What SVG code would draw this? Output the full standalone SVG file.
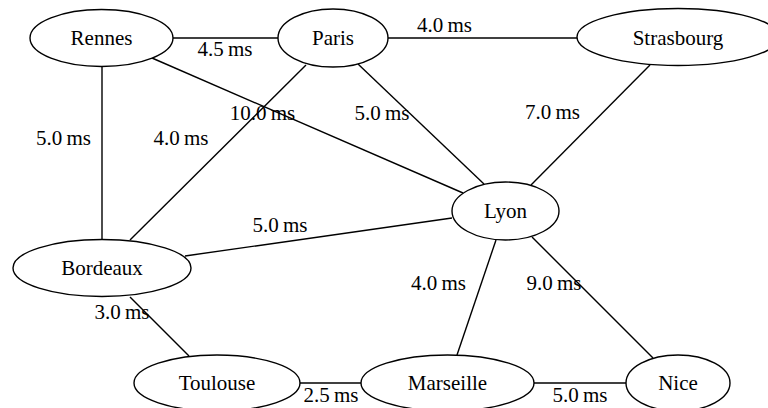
<svg xmlns="http://www.w3.org/2000/svg" width="768" height="408" viewBox="0 0 768 408">
<style>
.n ellipse{fill:#fff;stroke:#000;stroke-width:1.4}
text{font-size:21px;fill:#000;text-anchor:middle}
#edges line{stroke:#000;stroke-width:1.4}
</style>
<rect width="768" height="408" fill="#fff"/>
<g id="edges" font-family="Liberation Serif">
<line x1="173" y1="38" x2="278" y2="38"/>
<line x1="388" y1="38" x2="577" y2="38"/>
<line x1="152" y1="58" x2="463" y2="193"/>
<line x1="358" y1="64" x2="484" y2="184"/>
<line x1="650" y1="65" x2="531" y2="185"/>
<line x1="185" y1="256" x2="452" y2="218"/>
<line x1="306" y1="65" x2="130" y2="240"/>
<line x1="102" y1="66" x2="102" y2="240"/>
<line x1="130" y1="297" x2="189" y2="356"/>
<line x1="496" y1="240" x2="457" y2="355"/>
<line x1="532" y1="237" x2="653" y2="358"/>
<line x1="300" y1="383" x2="361" y2="383"/>
<line x1="534" y1="383" x2="626" y2="383"/>
<text font-family="Liberation Serif" x="225" y="56">4.5&#8201;ms</text>
<text font-family="Liberation Serif" x="444.5" y="32">4.0&#8201;ms</text>
<text font-family="Liberation Serif" x="262.5" y="120">10.0&#8201;ms</text>
<text font-family="Liberation Serif" x="382" y="120">5.0&#8201;ms</text>
<text font-family="Liberation Serif" x="552.5" y="119">7.0&#8201;ms</text>
<text font-family="Liberation Serif" x="63.5" y="145">5.0&#8201;ms</text>
<text font-family="Liberation Serif" x="181" y="145">4.0&#8201;ms</text>
<text font-family="Liberation Serif" x="280" y="232">5.0&#8201;ms</text>
<text font-family="Liberation Serif" x="122" y="319">3.0&#8201;ms</text>
<text font-family="Liberation Serif" x="331" y="402">2.5&#8201;ms</text>
<text font-family="Liberation Serif" x="438.5" y="290">4.0&#8201;ms</text>
<text font-family="Liberation Serif" x="554" y="290">9.0&#8201;ms</text>
<text font-family="Liberation Serif" x="580" y="402">5.0&#8201;ms</text>
</g>
<g id="rennes" class="n"><ellipse cx="101.5" cy="38" rx="71.5" ry="28.5"/><text font-family="Liberation Serif" x="101.5" y="45">Rennes</text></g>
<g id="paris" class="n"><ellipse cx="333" cy="38" rx="55" ry="29"/><text font-family="Liberation Serif" x="333" y="45">Paris</text></g>
<g id="strasbourg" class="n"><ellipse cx="678" cy="37" rx="101" ry="28.5"/><text font-family="Liberation Serif" x="678" y="45">Strasbourg</text></g>
<g id="lyon" class="n"><ellipse cx="505.5" cy="211" rx="53.5" ry="29"/><text font-family="Liberation Serif" x="505.5" y="218">Lyon</text></g>
<g id="bordeaux" class="n"><ellipse cx="102" cy="268" rx="89" ry="28.5"/><text font-family="Liberation Serif" x="102" y="275">Bordeaux</text></g>
<g id="toulouse" class="n"><ellipse cx="217" cy="383" rx="83" ry="28"/><text font-family="Liberation Serif" x="217" y="390">Toulouse</text></g>
<g id="marseille" class="n"><ellipse cx="447.5" cy="383" rx="86.5" ry="28"/><text font-family="Liberation Serif" x="447.5" y="390">Marseille</text></g>
<g id="nice" class="n"><ellipse cx="678" cy="383" rx="52" ry="28"/><text font-family="Liberation Serif" x="678" y="390">Nice</text></g>
</svg>
